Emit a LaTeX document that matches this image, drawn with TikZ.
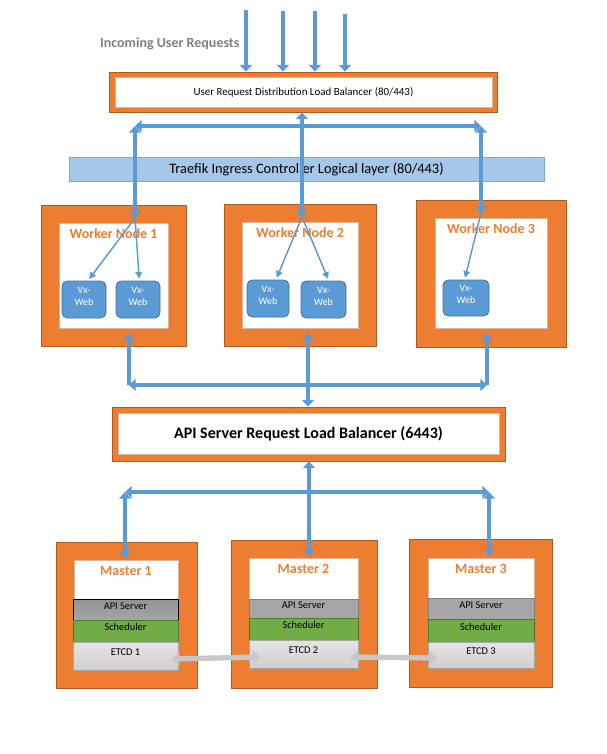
\documentclass[tikz,border=0pt]{standalone}
\usepackage{fontspec}
\setmainfont{Carlito}
\usepackage{tikz}
\usetikzlibrary{arrows.meta, positioning, calc, fit}
\definecolor{frameorange}{RGB}{237, 125, 49}
\definecolor{frameedge}{RGB}{174, 90, 33}
\definecolor{pipeblue}{RGB}{91, 155, 213}
\definecolor{podedge}{RGB}{65, 113, 156}
\definecolor{ingressfill}{RGB}{166, 199, 232}
\definecolor{incominggray}{RGB}{127, 127, 127}
\definecolor{apigray}{RGB}{166, 166, 166}
\definecolor{schedgreen}{RGB}{112, 173, 71}
\definecolor{etcdgray}{RGB}{208, 206, 206}
\definecolor{syncgray}{RGB}{200, 200, 200}

\begin{document}
\begin{tikzpicture}[
    x=0.75pt, y=-0.75pt,
    frame/.style={rectangle, fill=frameorange, draw=frameedge, line width=0.6pt, inner sep=0pt},
    panel/.style={rectangle, fill=white, draw=frameedge!45, line width=0.6pt, inner sep=0pt},
    ingress/.style={rectangle, inner sep=0pt, fill=ingressfill, draw=pipeblue!85, line width=0.6pt},
    title/.style={font=\fontsize{10.5}{12}\selectfont\bfseries, text=frameorange, inner sep=1pt},
    incoming/.style={font=\fontsize{10.5}{12}\selectfont\bfseries, text=incominggray, inner sep=1pt},
    pod/.style={rectangle, rounded corners=4pt, fill=pipeblue, draw=podedge, line width=0.6pt, inner sep=0pt, align=center, text=white, font=\fontsize{7.5}{9}\selectfont},
    layer/.style={rectangle, inner sep=0pt, line width=0.6pt, font=\fontsize{7.8}{9}\selectfont},
    apilayer/.style={layer, fill=apigray, draw=gray},
    schedlayer/.style={layer, fill=schedgreen, draw=schedgreen!70!black},
    etcdlayer/.style={layer, top color=etcdgray!55, bottom color=etcdgray, draw=gray!70},
    pipe/.style={draw=pipeblue, line width=3.6pt, -{Triangle[width=9pt, length=5pt]}},
    pipes/.style={pipe, {Triangle[width=9pt, length=5pt]}-{Triangle[width=9pt, length=5pt]}},
    feed/.style={draw=pipeblue, line width=1.1pt, shorten >=1.5pt, -{Triangle[width=5pt, length=5pt]}},
    sync/.style={draw=syncgray, line width=4pt, {Triangle[width=10pt, length=6pt]}-{Triangle[width=10pt, length=6pt]}}
]
\useasboundingbox (0,0) rectangle (607,754);

\coordinate (in1) at (246,10);
\coordinate (in2) at (283,11);
\coordinate (in3) at (315,11);
\coordinate (in4) at (345,14);
\node[incoming, anchor=east] (intext) at (241,44) {Incoming User Requests};

\node[frame, fit={(109,72) (497,112)}] (lbuser) {};
\node[panel, fit={(115,77) (492,107)}] (lbuserin) {};
\node[font=\fontsize{8.2}{10}\selectfont] (lbusertext) at (lbuserin) {User Request Distribution Load Balancer (80/443)};

\node[ingress, fit={(69,157) (544,181)}] (ingress) {};
\node[font=\fontsize{10.8}{13}\selectfont] (ingresstext) at (ingress) {Traefik Ingress Controller Logical layer (80/443)};

\node[frame, fit={(41,205) (186,346)}] (wk1) {};
\node[panel, fit={(59,223) (168,328)}] (wk1in) {};
\node[title, below=3pt of wk1in.north] (wk1title) {Worker Node 1};
\node[pod, fit={(62,281) (106,318)}] (web11) {Vx-\\Web};
\node[pod, fit={(116,281) (160,318)}] (web12) {Vx-\\Web};

\node[frame, fit={(224,204) (376,346)}] (wk2) {};
\node[panel, fit={(242,222) (358,328)}] (wk2in) {};
\node[title, below=3pt of wk2in.north] (wk2title) {Worker Node 2};
\node[pod, fit={(247,280) (289,317)}] (web21) {Vx-\\Web};
\node[pod, fit={(301,281) (346,318)}] (web22) {Vx-\\Web};

\node[frame, fit={(416,200) (566,347)}] (wk3) {};
\node[panel, fit={(435,218) (547,328)}] (wk3in) {};
\node[title, below=3pt of wk3in.north] (wk3title) {Worker Node 3};
\node[pod, fit={(443,280) (489,316)}] (web31) {Vx-\\Web};

\node[frame, fit={(112,407) (505,461)}] (lbapi) {};
\node[panel, fit={(118,413) (499,454)}] (lbapiin) {};
\node[font=\fontsize{12}{14}\selectfont\bfseries] (lbapitext) at (lbapiin) {API Server Request Load Balancer (6443)};

\node[frame, fit={(56,542) (197,688)}] (ms1) {};
\node[panel, fit={(74,560) (178,670)}] (ms1in) {};
\node[title, below=4pt of ms1in.north] (ms1title) {Master 1};
\node[apilayer, draw=black, top color=gray!85, bottom color=apigray, fit={(73,599) (178,620)}] (api1) {API Server};
\node[schedlayer, fit={(73,620) (178,642)}] (sched1) {Scheduler};
\node[etcdlayer, fit={(73,642) (178,670)}] (etcd1) {ETCD 1};

\node[frame, fit={(231,540) (377,688)}] (ms2) {};
\node[panel, fit={(249,558) (358,668)}] (ms2in) {};
\node[title, below=4pt of ms2in.north] (ms2title) {Master 2};
\node[apilayer, fit={(249,599) (358,618)}] (api2) {API Server};
\node[schedlayer, fit={(249,618) (358,640)}] (sched2) {Scheduler};
\node[etcdlayer, fit={(249,640) (358,668)}] (etcd2) {ETCD 2};

\node[frame, fit={(409,539) (552,687)}] (ms3) {};
\node[panel, fit={(428,558) (534,668)}] (ms3in) {};
\node[title, below=4pt of ms3in.north] (ms3title) {Master 3};
\node[apilayer, fit={(428,598) (534,619)}] (api3) {API Server};
\node[schedlayer, fit={(428,619) (534,642)}] (sched3) {Scheduler};
\node[etcdlayer, fit={(428,642) (534,668)}] (etcd3) {ETCD 3};

\draw[pipe] (in1) -- (in1 |- lbuser.north);
\draw[pipe] (in2) -- (in2 |- lbuser.north);
\draw[pipe] (in3) -- (in3 |- lbuser.north);
\draw[pipe] (in4) -- (in4 |- lbuser.north);

\coordinate (busl) at (135,126);
\coordinate (busm) at (302,126);
\coordinate (busr) at (481,126);
\coordinate (hub1) at (135,218);
\coordinate (hub2) at (302,217);
\coordinate (hub3) at (481,213);
\draw[pipes] (busl) -- (busr);
\draw[pipes] (busm |- lbuser.south) -- (hub2);
\draw[pipes] (busl) -- (hub1);
\draw[pipes] (busr) -- (hub3);

\draw[feed] (hub1) -- ([xshift=3pt]web11.north);
\draw[feed] (hub1) -- ([xshift=1pt]web12.north);
\draw[feed] (hub2) -- ([xshift=6pt]web21.north);
\draw[feed] (hub2) -- ([xshift=4pt]web22.north);
\draw[feed] (hub3) -- ([xshift=-1pt]web31.north);

\coordinate (up1) at (129,333);
\coordinate (up2) at (308,333);
\coordinate (up3) at (487,333);
\coordinate (bb1) at (129,385);
\coordinate (bb2) at (308,385);
\coordinate (bb3) at (487,385);
\draw[pipes] (bb1) -- (bb3);
\draw[pipe] (bb1) -- (up1);
\draw[pipe] (bb3) -- (up3);
\draw[pipes] (up2) -- (bb2 |- lbapi.north);

\coordinate (bc1) at (125,492);
\coordinate (bc2) at (309,492);
\coordinate (bc3) at (489,492);
\coordinate (dn1) at (125,558);
\coordinate (dn2) at (309,556);
\coordinate (dn3) at (489,556);
\draw[pipes] (bc1) -- (bc3);
\draw[pipes] (bc2 |- lbapi.south) -- (dn2);
\draw[pipes] (bc1) -- (dn1);
\draw[pipes] (bc3) -- (dn3);

\draw[sync] ([shift={(-7,3)}]etcd1.east) -- ([shift={(12,3)}]etcd2.west);
\draw[sync] ([shift={(-8,3)}]etcd2.east) -- ([shift={(10,3)}]etcd3.west);

\end{tikzpicture}
\end{document}
